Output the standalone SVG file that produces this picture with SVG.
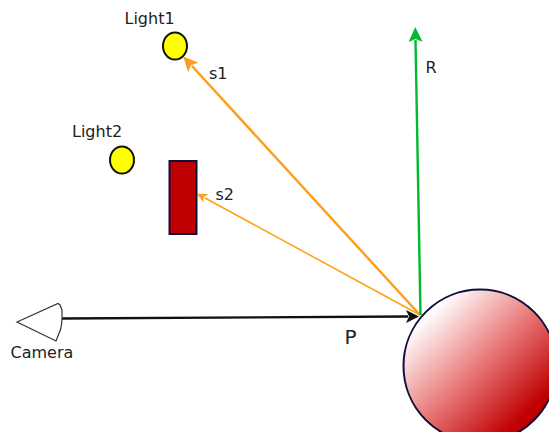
<svg xmlns="http://www.w3.org/2000/svg" width="549" height="432" viewBox="0 0 549 432">
<style>
text{font-family:"DejaVu Sans",sans-serif;font-size:16px;fill:#222}
.light{fill:#ffff00;stroke:#111;stroke-width:2}
</style>
<defs>
<linearGradient id="g" gradientUnits="userSpaceOnUse" x1="430" y1="312" x2="528" y2="412">
<stop offset="0" stop-color="#fff"/><stop offset="0.5" stop-color="#ea7c7c"/><stop offset="1" stop-color="#c00000"/>
</linearGradient>
<marker id="mo" markerUnits="userSpaceOnUse" markerWidth="16" markerHeight="16" refX="2" refY="7" orient="auto"><path d="M15 7L0 14L3.500 7L0 0Z" fill="#ff9c1a"/></marker>
<marker id="mo2" markerUnits="userSpaceOnUse" markerWidth="12" markerHeight="12" refX="1" refY="5" orient="auto"><path d="M10 5L0 10L2.500 5L0 0Z" fill="#ffa31a"/></marker>
<marker id="mg" markerUnits="userSpaceOnUse" markerWidth="18" markerHeight="16" refX="2" refY="7" orient="auto"><path d="M15 7L0 14L3 7L0 0Z" fill="#00bb2d"/></marker>
<marker id="mk" markerUnits="userSpaceOnUse" markerWidth="16" markerHeight="16" refX="2" refY="6.500" orient="auto"><path d="M13 6.500L0 13L3 6.500L0 0Z" fill="#111"/></marker>
</defs>
<g id="connectors" fill="none">
<line x1="420" y1="315" x2="192" y2="66" stroke="#ff9c1a" stroke-width="2.400" marker-end="url(#mo)"/>
<line x1="420" y1="315" x2="205" y2="198" stroke="#ffa31a" stroke-width="1.600" marker-end="url(#mo2)"/>
<line x1="420.500" y1="315" x2="415.500" y2="40" stroke="#00bb2d" stroke-width="2.400" marker-end="url(#mg)"/>
<line x1="62" y1="318.500" x2="408" y2="316.500" stroke="#111" stroke-width="2.400" marker-end="url(#mk)"/>
</g>
<g id="camera"><path d="M17 322L58 303.500L60 305L62 310Q62.500 325 60 331L56 341Z" fill="#fff" stroke="#333" stroke-width="1.200"/><text x="10.500" y="358">Camera</text></g>
<g id="light1"><ellipse class="light" cx="175" cy="46" rx="12" ry="13.500"/><text x="124.500" y="23.500">Light1</text></g>
<g id="light2"><ellipse class="light" cx="122" cy="160" rx="12" ry="13.500"/><text x="72" y="136.500">Light2</text></g>
<g id="obstacle"><rect x="169.500" y="161" width="27" height="73" fill="#bf0000" stroke="#0f0f3c" stroke-width="2"/></g>
<g id="sphere"><circle cx="480" cy="366" r="76.500" fill="url(#g)" stroke="#0f0f3c" stroke-width="2"/></g>
<g id="labels">
<text x="209" y="79">s1</text>
<text x="215.500" y="200">s2</text>
<text x="425.500" y="72.500">R</text>
<text x="344.500" y="344" style="font-size:20px">P</text>
</g>
</svg>
